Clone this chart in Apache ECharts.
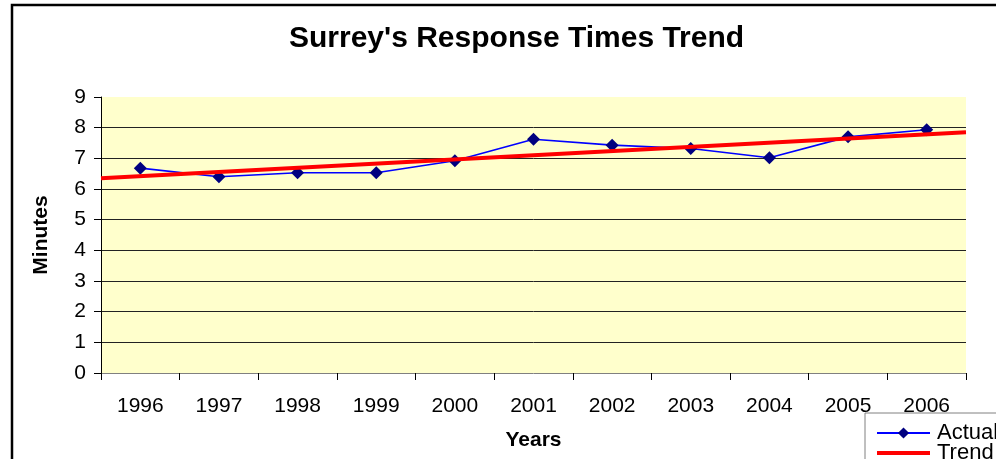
<!DOCTYPE html>
<html>
<head>
<meta charset="utf-8">
<script src="https://cdn.jsdelivr.net/npm/echarts@6/dist/echarts.min.js"></script>
<style>
  html, body { margin: 0; padding: 0; background: #ffffff; }
  #chart { width: 996px; height: 459px; }
</style>
</head>
<body>
<div id="chart"></div>
<script>
// Yearly average response time, in minutes
const years = ['1996', '1997', '1998', '1999', '2000', '2001', '2002', '2003', '2004', '2005', '2006'];
const actualMinutes = [6.68, 6.40, 6.53, 6.53, 6.92, 7.62, 7.43, 7.32, 7.02, 7.70, 7.93];
const yAxisRange = [0, 9];

// Least-squares linear trend over the yearly values,
// extended half a category past each end of the axis
function linearTrend(values) {
  const n = values.length;
  let sx = 0, sy = 0, sxx = 0, sxy = 0;
  values.forEach((v, i) => { sx += i; sy += v; sxx += i * i; sxy += i * v; });
  const slope = (n * sxy - sx * sy) / (n * sxx - sx * sx);
  const intercept = (sy - slope * sx) / n;
  const x0 = -0.5, x1 = n - 0.5;
  return [[x0, intercept + slope * x0], [x1, intercept + slope * x1]];
}
const trendPoints = linearTrend(actualMinutes);

const chart = echarts.init(document.getElementById('chart'), null, { renderer: 'canvas' });
const font = 'Liberation Sans, Arial, sans-serif';

chart.setOption({
  animation: false,
  backgroundColor: '#ffffff',
  title: {
    text: "Surrey's Response Times Trend",
    left: 284,
    top: 19,
    textStyle: { fontFamily: font, fontSize: 30, fontWeight: 'bold', color: '#000000' }
  },
  graphic: [{
    type: 'rect',
    shape: { x: 12, y: 5, width: 1200, height: 600 },
    style: { fill: 'none', stroke: '#000000', lineWidth: 2.5 },
    z: 100
  }],
  legend: {
    orient: 'vertical',
    left: 865,
    top: 413,
    width: 200,
    height: 80,
    padding: [9, 60, 10, 10],
    itemGap: -2,
    itemWidth: 53,
    itemHeight: 14,
    backgroundColor: '#ffffff',
    borderColor: '#808080',
    borderWidth: 1,
    textStyle: { fontFamily: font, fontSize: 22, color: '#000000', padding: [0, 0, 0, 2] },
    data: [
      { name: 'Actual', lineStyle: { width: 2 } },
      { name: 'Trend', itemStyle: { opacity: 0 }, lineStyle: { width: 4 } }
    ]
  },
  grid: {
    left: 101,
    right: 30,
    top: 97,
    bottom: 86,
    outerBoundsMode: 'none',
    containLabel: false,
    show: true,
    backgroundColor: '#FFFFCC',
    borderWidth: 0
  },
  xAxis: [{
    type: 'category',
    data: years,
    boundaryGap: true,
    name: 'Years',
    nameLocation: 'middle',
    nameGap: 57,
    nameTextStyle: { fontFamily: font, fontSize: 21, fontWeight: 'bold', color: '#000000' },
    axisLine: { lineStyle: { color: '#808080', width: 1 } },
    axisTick: { show: true, length: 7, lineStyle: { color: '#000000' } },
    axisLabel: { fontFamily: font, fontSize: 21, color: '#000000', margin: 23, interval: 0 },
    splitLine: { show: false }
  }, {
    type: 'value',
    min: -0.5,
    max: years.length - 0.5,
    show: false
  }],
  yAxis: {
    type: 'value',
    min: yAxisRange[0],
    max: yAxisRange[1],
    interval: 1,
    name: 'Minutes',
    nameLocation: 'middle',
    nameGap: 49,
    nameRotate: 90,
    nameTextStyle: { fontFamily: font, fontSize: 21, fontWeight: 'bold', color: '#000000' },
    axisLine: { show: true, onZero: false, lineStyle: { color: '#000000', width: 1 } },
    axisTick: { show: true, length: 7, lineStyle: { color: '#000000' } },
    axisLabel: { fontFamily: font, fontSize: 21, color: '#000000', margin: 15 },
    splitLine: { show: true, showMinLine: false, showMaxLine: false, lineStyle: { color: '#222222', width: 1 } }
  },
  series: [{
    name: 'Actual',
    type: 'line',
    xAxisIndex: 0,
    data: actualMinutes,
    symbol: 'diamond',
    symbolSize: 13,
    lineStyle: { color: '#0000FF', width: 1.6 },
    itemStyle: { color: '#000080' },
    z: 2
  }, {
    name: 'Trend',
    type: 'line',
    xAxisIndex: 1,
    data: trendPoints,
    symbol: 'none',
    lineStyle: { color: '#FF0000', width: 4 },
    itemStyle: { color: '#FF0000' },
    z: 3
  }]
});
</script>
</body>
</html>
